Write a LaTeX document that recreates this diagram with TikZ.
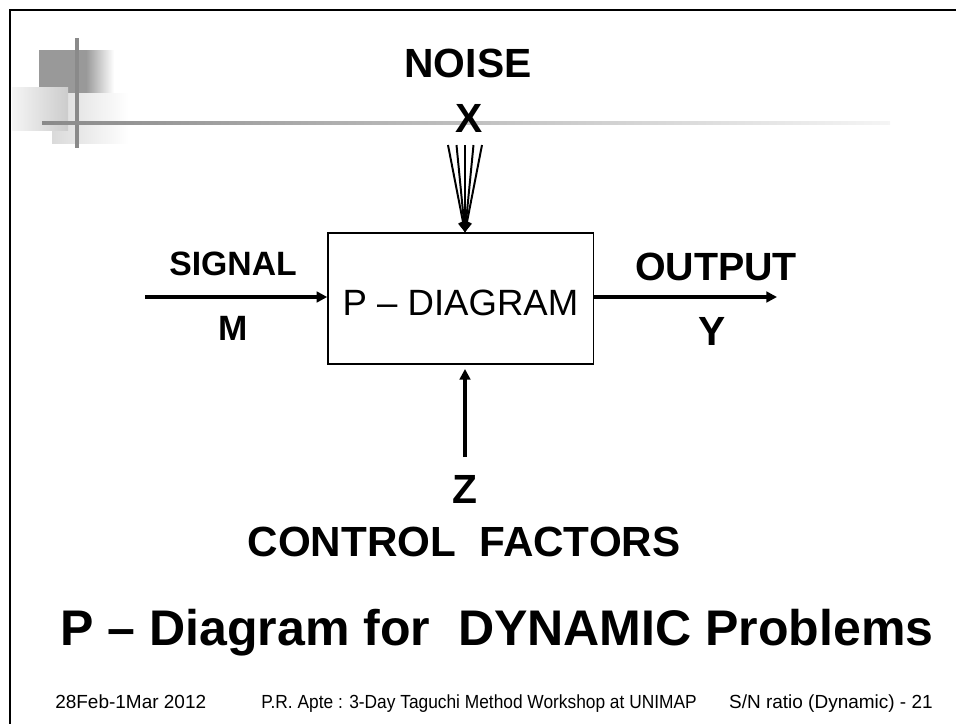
\documentclass[tikz,border=0pt]{standalone}
\usepackage{fontspec}
\setmainfont{Liberation Sans}
\usetikzlibrary{arrows.meta}
\definecolor{deco}{HTML}{8A8A8A}
\definecolor{decodark}{HTML}{999999}
\definecolor{decolite}{HTML}{DADADA}
\tikzset{
  lbl/.style={font=\fontsize{#1}{#1}\selectfont\bfseries,inner sep=0pt,anchor=base},
  foot/.style={font=\fontsize{#1}{#1}\selectfont,inner sep=0pt,anchor=base west},
  flow/.style={-{Triangle[length=7.5pt,width=7.5pt]},line width=2.2pt},
  fan/.style={-{Triangle[length=7pt,width=7pt]},line width=1.4pt},
}

\begin{document}
\begin{tikzpicture}[x=0.025cm,y=-0.025cm]
\useasboundingbox (0,0) rectangle (956,724);
% slide frame and corner decoration
\draw[line width=1.8pt] (10,724) -- (10,10) -- (956,10);
\fill[decodark] (39,50) rectangle (86,93);
\shade[left color=decodark,right color=white] (86,50) rectangle (114,93);
\shade[left color=decolite,right color=white] (52,93) rectangle (129,143);
\shade[left color=gray!8,right color=gray!40] (12,87) rectangle (68,130);
\draw[deco,line width=2.2pt] (77,38) -- (77,148);
\shade[left color=deco,right color=gray!8] (42,121.5) rectangle (890,124.5);

% the block
\node[draw,line width=0.9pt,minimum width=6.63cm,minimum height=3.28cm,
      text height=24.8pt,text depth=0pt,
      font=\fontsize{26}{26}\selectfont] (pdiag) at (460.5,298.5) {P -- DIAGRAM};

\coordinate (sigin) at (145,297);
\coordinate (outend) at (777,297);
\coordinate (zbot) at (465,457);
\foreach \i in {1,...,5}
  \coordinate (n\i) at ({439.5+8.5*\i},145);

\draw[flow] (sigin) -- (sigin -| pdiag.west);
\draw[flow] (outend -| pdiag.east) -- (outend);
\draw[flow,shorten >=3pt] (zbot) -- (zbot |- pdiag.south);
\foreach \i in {1,...,5}
  \draw[fan] (n\i) -- (n3 |- pdiag.north);

% labels
\node[lbl=29] (noise) at (468,77) {NOISE};
\node[lbl=29] (xlab) at (469,132) {X};
\node[lbl=24] (signal) at (233,275) {SIGNAL};
\node[lbl=25] (mlab) at (233,340) {M};
\node[lbl=28] (output) at (716,280) {OUTPUT};
\node[lbl=29] (ylab) at (712,345) {Y};
\node[lbl=29] (zlab) at (465,503) {Z};
\node[lbl=30] (ctrl) at (464,556) {CONTROL\ \ FACTORS};
\node[lbl=35.6,anchor=base west] (title) at (60,645) {P -- Diagram for\ \ DYNAMIC Problems};

% footer
\node[foot=13.5] (date) at (55,708) {28Feb-1Mar 2012};
\node[foot=13.5] (event) at (261,708) {\scalebox{0.913}[1]{P.R. Apte : 3-Day Taguchi Method Workshop at UNIMAP}};
\node[foot=13.5,anchor=base east] (page) at (933,708) {S/N ratio (Dynamic) - 21};
\end{tikzpicture}
\end{document}
